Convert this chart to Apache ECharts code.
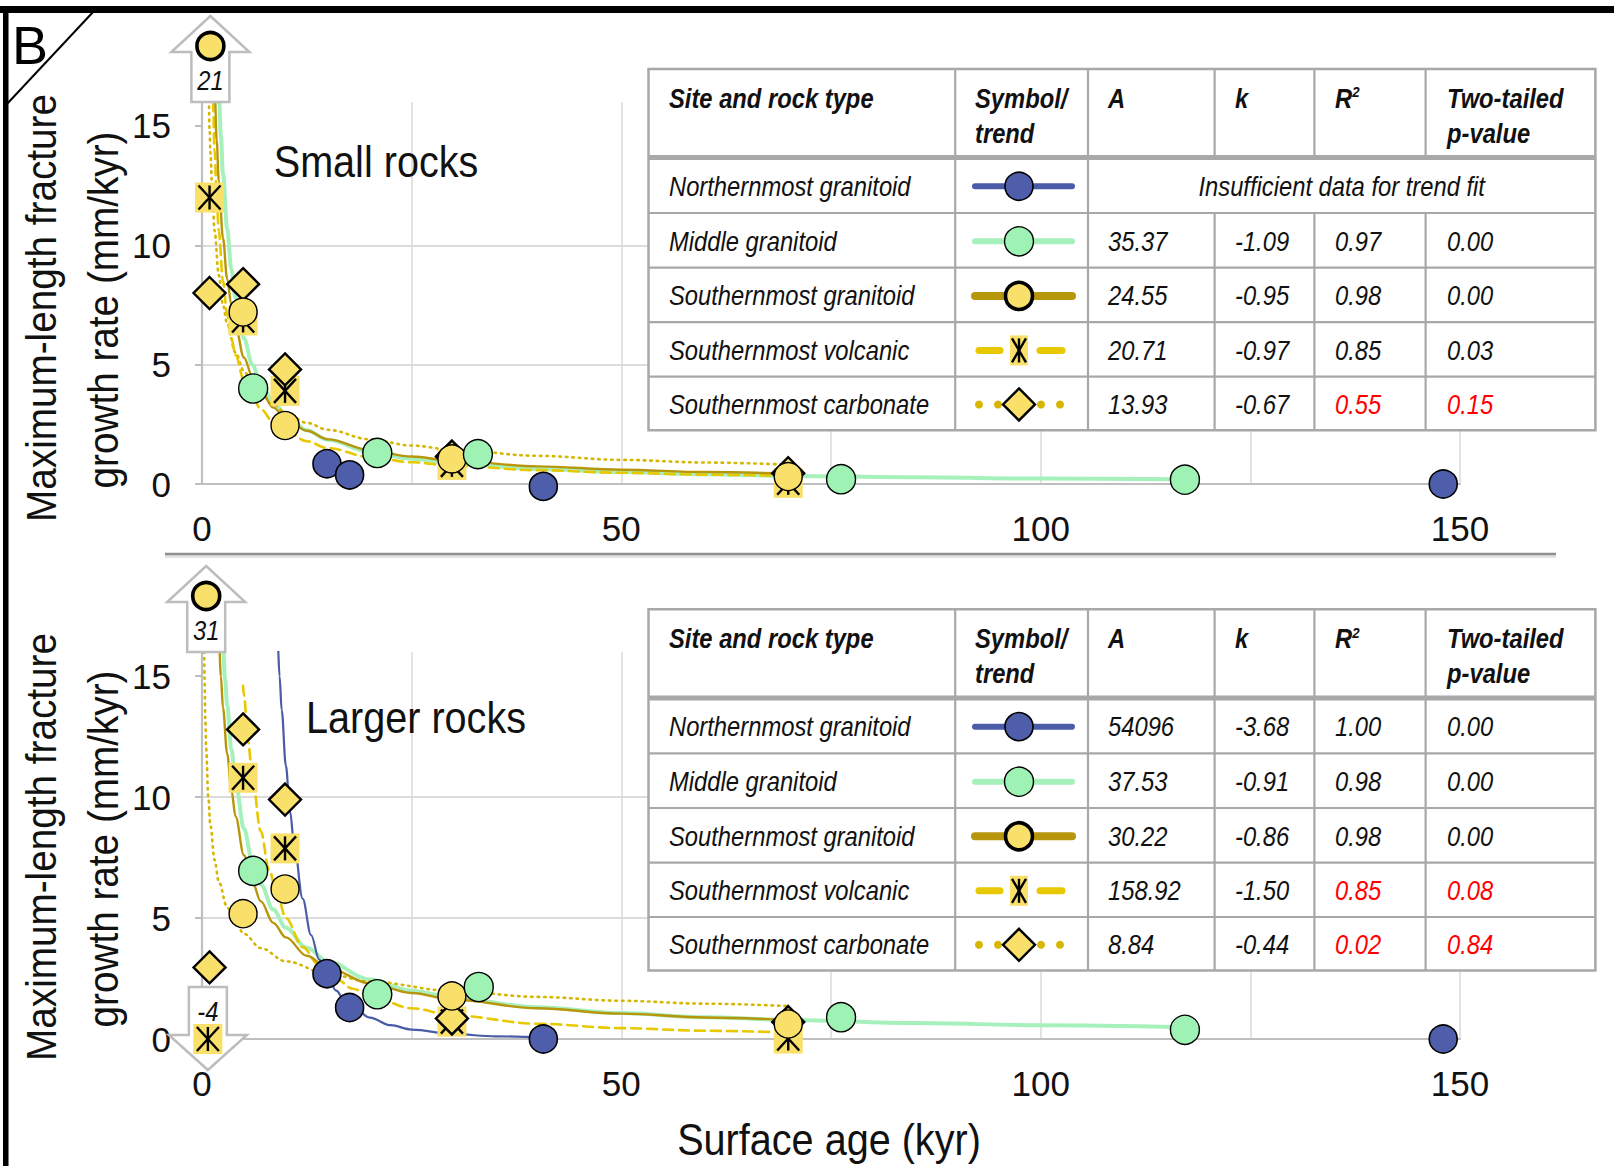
<!DOCTYPE html>
<html><head><meta charset="utf-8">
<script src="https://cdn.jsdelivr.net/npm/echarts@6/dist/echarts.min.js"></script>
<style>html,body{margin:0;padding:0;background:#fff}#c{width:1614px;height:1166px}</style>
</head><body><div id="c"></div>
<script>
// ---------------- DATA ----------------
const xTickLabels = [0, 50, 100, 150];
const yTickLabels = [0, 5, 10, 15];
const siteNames = ['Northernmost granitoid', 'Middle granitoid', 'Southernmost granitoid', 'Southernmost volcanic', 'Southernmost carbonate'];
const headers = ['Site and rock type', 'Symbol/\ntrend', 'A', 'k', 'R2', 'Two-tailed\np-value'];
const insufficientText = 'Insufficient data for trend fit';

// Small rocks table
const smallA  = [null, '35.37', '24.55', '20.71', '13.93'];
const smallK  = [null, '-1.09', '-0.95', '-0.97', '-0.67'];
const smallR2 = [null, '0.97', '0.98', '0.85', '0.55'];
const smallP  = [null, '0.00', '0.00', '0.03', '0.15'];
// Larger rocks table
const largeA  = ['54096', '37.53', '30.22', '158.92', '8.84'];
const largeK  = ['-3.68', '-0.91', '-0.86', '-1.50', '-0.44'];
const largeR2 = ['1.00', '0.98', '0.98', '0.85', '0.02'];
const largeP  = ['0.00', '0.00', '0.00', '0.08', '0.84'];

// Small rocks points [age kyr, rate mm/kyr]
const smallNorthern = [[14.9, 0.85], [17.6, 0.38], [40.7, -0.1], [148, 0]];
const smallMiddle = [[6.1, 4.0], [20.9, 1.3], [32.9, 1.25], [76.2, 0.2], [117.2, 0.18]];
const smallSouthGranitoid = [[4.9, 7.2], [9.9, 2.45], [29.8, 1.05], [69.9, 0.31]];
const smallSouthGranitoidOff = [[1, 21]];
const smallVolcanic = [[0.9, 12.0], [4.9, 6.85], [9.9, 3.9], [29.8, 0.8], [69.9, 0.05]];
const smallCarbonate = [[0.9, 8.0], [4.9, 8.37], [9.9, 4.8], [29.8, 1.15], [69.9, 0.45]];

// Larger rocks points
const largeNorthern = [[14.9, 2.7], [17.6, 1.3], [40.7, 0], [148, 0]];
const largeMiddle = [[6.1, 6.95], [20.9, 1.85], [33.0, 2.15], [76.2, 0.9], [117.2, 0.38]];
const largeSouthGranitoid = [[4.9, 5.18], [9.9, 6.2], [29.8, 1.78], [69.9, 0.62]];
const largeSouthGranitoidOff = [[0.5, 31]];
const largeVolcanic = [[4.9, 10.8], [9.9, 7.88], [29.8, 0.72], [69.9, 0.02]];
const largeVolcanicOff = [[0.7, -4]];
const largeCarbonate = [[0.9, 2.96], [4.9, 12.8], [9.9, 9.9], [29.8, 0.85], [69.9, 0.7]];

// Trend curves
const smallTrendMiddle = [[1.9,17.6],[2,16.6],[2.25,14.6],[2.5,13.0],[3,10.7],[3.5,9.0],[4,7.8],[5,6.1],[6,5.0],[7,4.24],[8.5,3.43],[10,2.88],[12.5,2.25],[15,1.85],[20,1.35],[25,1.06],[30,0.87],[40,0.63],[50,0.5],[60,0.41],[70,0.34],[85,0.28],[100,0.23],[117,0.2]];
const smallTrendSouthGranitoid = [[1.45,17.2],[1.5,16.7],[1.75,14.4],[2,12.7],[2.5,10.3],[3,8.6],[3.5,7.5],[4,6.6],[5,5.3],[6,4.5],[7,3.9],[8.5,3.2],[10,2.75],[12.5,2.23],[15,1.87],[20,1.42],[25,1.15],[30,0.97],[40,0.74],[50,0.6],[60,0.5],[70,0.43]];
const smallTrendVolcanic = [[1.25,16.7],[1.3,16.0],[1.5,14.0],[1.75,12.0],[2,10.6],[2.5,8.5],[3,7.1],[3.5,6.1],[4,5.4],[5,4.35],[6,3.64],[7,3.14],[8.5,2.6],[10,2.22],[12.5,1.79],[15,1.5],[20,1.13],[25,0.91],[30,0.76],[40,0.58],[50,0.47],[60,0.39],[70,0.34]];
const smallTrendCarbonate = [[0.75,16.9],[0.8,16.2],[0.9,14.9],[1,13.9],[1.25,12.0],[1.5,10.6],[2,8.75],[2.5,7.5],[3,6.7],[4,5.5],[5,4.74],[6,4.2],[7,3.78],[8.5,3.32],[10,2.98],[12.5,2.56],[15,2.27],[20,1.87],[25,1.61],[30,1.43],[40,1.18],[50,1.01],[60,0.9],[70,0.81]];

const largeTrendNorthern = [[8.8,18.0],[9,16.6],[9.25,15.0],[9.5,13.6],[10,11.3],[10.5,9.4],[11,8.0],[12,5.8],[13,4.3],[14,3.27],[15,2.54],[16,2.0],[17,1.6],[18.5,1.17],[20,0.88],[22.5,0.57],[25,0.39],[30,0.2],[35,0.11],[41,0.06]];
const largeTrendMiddle = [[2.3,17.6],[2.5,16.3],[2.75,14.9],[3,13.8],[3.5,12.0],[4,10.6],[5,8.7],[6,7.35],[7,6.4],[8.5,5.35],[10,4.6],[12.5,3.77],[15,3.2],[20,2.46],[25,2.0],[30,1.7],[40,1.31],[50,1.07],[60,0.9],[70,0.79],[85,0.66],[100,0.57],[117,0.49]];
const largeTrendSouthGranitoid = [[1.8,18.2],[2,16.7],[2.25,15.0],[2.5,13.7],[3,11.8],[3.5,10.3],[4,9.2],[5,7.6],[6,6.5],[7,5.7],[8.5,4.8],[10,4.2],[12.5,3.44],[15,2.94],[20,2.3],[25,1.9],[30,1.62],[40,1.27],[50,1.05],[60,0.89],[70,0.78]];
const largeTrendVolcanic = [[4.9,14.6],[5,14.2],[5.5,12.3],[6,10.8],[7,8.6],[8,7.0],[9,5.9],[10,5.0],[12,3.8],[14,3.03],[16,2.48],[18,2.08],[20,1.78],[25,1.27],[30,0.97],[40,0.63],[50,0.45],[60,0.34],[70,0.27]];
const largeTrendCarbonate = [[0.2,17.9],[0.25,16.3],[0.3,15.0],[0.4,13.2],[0.5,12.0],[0.75,10.0],[1,8.84],[1.5,7.4],[2,6.5],[3,5.45],[4,4.8],[5,4.35],[7,3.76],[10,3.21],[15,2.69],[20,2.37],[30,1.98],[40,1.74],[50,1.58],[60,1.46],[70,1.36]];

// ---------------- STYLE ----------------
const FONT = "'Liberation Sans Narrow','Arial Narrow','Liberation Sans',Arial,sans-serif";
const SQ = 0.88; // horizontal condensing of text to mimic a narrow face
const AXIS_GRAY = '#BFBFBF', GRID_GRAY = '#DCDCDC', TABLE_GRAY = '#A8A8A8';
const C = {
  blueFill: '#4F5EAA', blueLine: '#4A5BA8',
  greenFill: '#9EF2B4', greenLine: '#A6F0BC',
  yellow: '#F8E06A', goldLine: '#B8960C',
  volcLine: '#E8C800', carbLine: '#D6B600'
};
const Y_MIN = 0, Y_MAX = 16;

function markerShapes(kind, cx, cy, opt) {
  opt = opt || {};
  if (kind === 'circleBlue') return [{type:'circle', shape:{cx, cy, r:14}, style:{fill:C.blueFill, stroke:'#000', lineWidth:1.6}}];
  if (kind === 'circleGreen') return [{type:'circle', shape:{cx, cy, r:14.5}, style:{fill:C.greenFill, stroke:'#000', lineWidth:1.4}}];
  if (kind === 'circleBold') return [{type:'circle', shape:{cx, cy, r:13.5}, style:{fill:C.yellow, stroke:'#000', lineWidth:3.6}}];
  if (kind === 'diamond') {
    const h = 16;
    return [{type:'polygon', shape:{points:[[cx, cy-h],[cx+h, cy],[cx, cy+h],[cx-h, cy]]}, style:{fill:C.yellow, stroke:'#000', lineWidth:2.4}}];
  }
  if (kind === 'asterisk') {
    const hw = opt.narrow ? 9 : 14.5, hh = 15, aw = opt.narrow ? 7 : 11, ah = 12;
    return [
      {type:'rect', shape:{x:cx-hw, y:cy-hh, width:hw*2, height:hh*2}, style:{fill:C.yellow}},
      {type:'line', shape:{x1:cx-aw, y1:cy-ah, x2:cx+aw, y2:cy+ah}, style:{stroke:'#000', lineWidth:2.4}},
      {type:'line', shape:{x1:cx+aw, y1:cy-ah, x2:cx-aw, y2:cy+ah}, style:{stroke:'#000', lineWidth:2.4}},
      {type:'line', shape:{x1:cx, y1:cy-ah, x2:cx, y2:cy+ah}, style:{stroke:'#000', lineWidth:2.4}}
    ];
  }
  return [];
}

function trend(data, gi, color, width, type, z) {
  return {type:'line', xAxisIndex:gi, yAxisIndex:gi, data, showSymbol:false, symbol:'none',
    smooth:0.35, smoothMonotone:'x', clip:true, z, silent:true,
    lineStyle:{color, width, type, cap:'round'}};
}
function scatter(data, gi, symbol, size, fill, bw, z) {
  return {type:'scatter', xAxisIndex:gi, yAxisIndex:gi, data, symbol, symbolSize:size, clip:false, z, silent:true,
    itemStyle:{color:fill, borderColor:'#000', borderWidth:bw, opacity:1}};
}
function markerSeries(data, gi, kind, z) {
  return {type:'custom', xAxisIndex:gi, yAxisIndex:gi, data, clip:false, z, silent:true,
    renderItem:(params, api) => {
      const p = api.coord([api.value(0), api.value(1)]);
      return {type:'group', children: markerShapes(kind, p[0], p[1])};
    }};
}
function arrowSeries(data, gi, kind) {
  return {type:'custom', xAxisIndex:gi, yAxisIndex:gi, data, clip:false, z:30, silent:true,
    renderItem:(params, api) => {
      const x = api.value(0), v = api.value(1);
      const up = v > Y_MAX;
      const p = api.coord([x, up ? Y_MAX : Y_MIN]);
      const cx = p[0], y0 = p[1];
      let pts, my, ty;
      if (up) {
        pts = [[cx-19,y0],[cx-19,y0-50],[cx-39,y0-50],[cx,y0-86],[cx+39,y0-50],[cx+19,y0-50],[cx+19,y0]];
        my = y0 - 56; ty = y0 - 22;
      } else {
        pts = [[cx-19,y0-52],[cx-19,y0-4],[cx-39,y0-4],[cx,y0+31],[cx+39,y0-4],[cx+19,y0-4],[cx+19,y0-52]];
        my = y0; ty = y0 - 28;
      }
      const children = [{type:'polygon', shape:{points:pts}, style:{fill:'#fff', stroke:'#BDBDBD', lineWidth:2.5}}];
      children.push(...markerShapes(kind, cx, my));
      children.push({type:'text', x:cx, y:ty, scaleX:SQ, style:{text:String(v), fill:'#111', fontSize:27, fontStyle:'italic', fontFamily:FONT,
        textAlign:'center', textVerticalAlign:'middle', align:'center', verticalAlign:'middle'}});
      return {type:'group', children};
    }};
}

// ---------------- TABLES (graphic) ----------------
const COLS = [648.5, 955.2, 1088, 1214.6, 1314.4, 1425.6, 1595.4];
const TEXT_X = [669, null, 1108, 1235, 1335, 1447];
const legendKinds = [
  {line:'solid', color:C.blueLine, w:6, marker:'circleBlue'},
  {line:'solid', color:C.greenLine, w:6, marker:'circleGreen'},
  {line:'solid', color:C.goldLine, w:8, marker:'circleBold'},
  {line:'dash', color:C.volcLine, w:7, marker:'asterisk'},
  {line:'dot', color:C.carbLine, w:4, marker:'diamond'}
];
function txt(x, y, text, o) {
  o = o || {};
  return {type:'text', x, y, z:101, scaleX:SQ, style:{text, fill:o.color || '#111', fontSize:o.size || 27, fontFamily:FONT,
    fontStyle:'italic', fontWeight:o.bold ? 'bold' : 'normal',
    textAlign:o.align || 'left', textVerticalAlign:'middle', align:o.align || 'left', verticalAlign:'middle',
    rich:o.rich}};
}
function buildTable(rowsY, A, K, R2, P) {
  const els = [];
  const top = rowsY[0], bottom = rowsY[rowsY.length-1];
  els.push({type:'rect', z:100, shape:{x:COLS[0], y:top, width:COLS[6]-COLS[0], height:bottom-top}, style:{fill:'#fff', stroke:TABLE_GRAY, lineWidth:2.5}});
  for (let i = 1; i < rowsY.length - 1; i++) {
    els.push({type:'line', z:101, shape:{x1:COLS[0], y1:rowsY[i], x2:COLS[6], y2:rowsY[i]}, style:{stroke:TABLE_GRAY, lineWidth: i === 1 ? 5 : 2.2}});
  }
  for (let j = 1; j < 6; j++) {
    if (j >= 3 && A[0] === null) {
      els.push({type:'line', z:101, shape:{x1:COLS[j], y1:top, x2:COLS[j], y2:rowsY[1]}, style:{stroke:TABLE_GRAY, lineWidth:2.2}});
      els.push({type:'line', z:101, shape:{x1:COLS[j], y1:rowsY[2], x2:COLS[j], y2:bottom}, style:{stroke:TABLE_GRAY, lineWidth:2.2}});
      continue;
    }
    els.push({type:'line', z:101, shape:{x1:COLS[j], y1:top, x2:COLS[j], y2:bottom}, style:{stroke:TABLE_GRAY, lineWidth:2.2}});
  }
  // headers
  const hy1 = top + 29, hy2 = top + 64;
  headers.forEach((h, j) => {
    const x = j === 1 ? 975 : TEXT_X[j];
    const lines = h.split('\n');
    if (h === 'R2') {
      els.push(txt(x, hy1, '{b|R}{s|2}', {bold:true, rich:{b:{fontSize:27, fontWeight:'bold', fontStyle:'italic', fontFamily:FONT, fill:'#111'}, s:{fontSize:15, fontWeight:'bold', fontStyle:'italic', fontFamily:FONT, fill:'#111', verticalAlign:'top', padding:[0,0,12,0]}}}));
    } else {
      els.push(txt(x, hy1, lines[0], {bold:true}));
      if (lines[1]) els.push(txt(x, hy2, lines[1], {bold:true}));
    }
  });
  // rows
  for (let i = 0; i < siteNames.length; i++) {
    const cy = (rowsY[i+1] + rowsY[i+2]) / 2 + 1;
    els.push(txt(TEXT_X[0], cy, siteNames[i]));
    const L = legendKinds[i], lx1 = 975, lx2 = 1072, mx = 1019;
    if (L.line === 'solid') {
      els.push({type:'line', z:101, shape:{x1:lx1, y1:cy, x2:lx2, y2:cy}, style:{stroke:L.color, lineWidth:L.w, lineCap:'round'}});
    } else if (L.line === 'dash') {
      els.push({type:'line', z:101, shape:{x1:979, y1:cy, x2:1000, y2:cy}, style:{stroke:L.color, lineWidth:L.w, lineCap:'round'}});
      els.push({type:'line', z:101, shape:{x1:1040, y1:cy, x2:1062, y2:cy}, style:{stroke:L.color, lineWidth:L.w, lineCap:'round'}});
    } else {
      [979, 998, 1041, 1060].forEach(dx => els.push({type:'circle', z:101, shape:{cx:dx, cy, r:4}, style:{fill:L.color}}));
    }
    markerShapes(L.marker, mx, cy, {narrow:true}).forEach(m => { m.z = 102; els.push(m); });
    if (A[i] === null) {
      els.push(txt((COLS[2] + COLS[6]) / 2, cy, insufficientText, {align:'center'}));
    } else {
      const red = parseFloat(P[i]) > 0.05;
      els.push(txt(TEXT_X[2], cy, A[i]));
      els.push(txt(TEXT_X[3], cy, K[i]));
      els.push(txt(TEXT_X[4], cy, R2[i], {color: red ? '#FF0000' : '#111'}));
      els.push(txt(TEXT_X[5], cy, P[i], {color: red ? '#FF0000' : '#111'}));
    }
  }
  return els;
}

function bigText(x, y, text, size, rot) {
  return {type:'text', z:60, x, y, rotation:rot || 0, scaleX:0.9, style:{text, fontSize:size, fontFamily:FONT, fill:'#111',
    textAlign:'center', textVerticalAlign:'middle', align:'center', verticalAlign:'middle'}};
}

const graphics = [];
// frame
graphics.push({type:'rect', z:200, shape:{x:0, y:6, width:1614, height:7}, style:{fill:'#000'}});
graphics.push({type:'rect', z:200, shape:{x:3, y:6, width:5.5, height:1160}, style:{fill:'#000'}});
graphics.push({type:'line', z:200, shape:{x1:94, y1:11, x2:6, y2:105}, style:{stroke:'#000', lineWidth:2}});
graphics.push({type:'text', z:200, x:30, y:45, style:{text:'B', fontSize:54, fontFamily:"'Liberation Sans',Arial,sans-serif", fill:'#000', textAlign:'center', textVerticalAlign:'middle', align:'center', verticalAlign:'middle'}});
// panel separator
graphics.push({type:'line', z:50, shape:{x1:165, y1:556, x2:1556, y2:556}, style:{stroke:'#E2E2E2', lineWidth:4}});
graphics.push({type:'line', z:51, shape:{x1:165, y1:554, x2:1556, y2:554}, style:{stroke:'#8F8F8F', lineWidth:2.5}});
// titles
const yTitle1 = 'Maximum-length fracture', yTitle2 = 'growth rate (mm/kyr)';
[[308, 310], [847, 849]].forEach(([c1, c2]) => {
  graphics.push(bigText(41, c1, yTitle1, 43, Math.PI/2));
  graphics.push(bigText(103, c2, yTitle2, 43, Math.PI/2));
});
graphics.push(bigText(376, 162, 'Small rocks', 44));
graphics.push(bigText(416, 718, 'Larger rocks', 44));
graphics.push(bigText(829, 1140, 'Surface age (kyr)', 44));
graphics.push(...buildTable([69, 157.5, 213, 267.6, 322.2, 376.7, 430.2], smallA, smallK, smallR2, smallP));
graphics.push(...buildTable([609.3, 697.9, 753.4, 808, 862.6, 917, 970.6], largeA, largeK, largeR2, largeP));

// ---------------- CHART ----------------
const axisBase = i => ({
  x: {type:'value', gridIndex:i, min:0, max:150, interval:25,
    axisLine:{show:true, onZero:false, lineStyle:{color:AXIS_GRAY, width:2.2}},
    axisTick:{show:false},
    axisLabel:{margin:27, fontSize:35, color:'#111', fontFamily:FONT, customValues:xTickLabels},
    splitLine:{show:true, lineStyle:{color:GRID_GRAY, width:1.6}}},
  y: {type:'value', gridIndex:i, min:Y_MIN, max:Y_MAX, interval:5,
    axisLine:{show:true, onZero:false, lineStyle:{color:AXIS_GRAY, width:2.2}},
    axisTick:{show:true, inside:false, length:7, lineStyle:{color:AXIS_GRAY, width:2}, customValues:yTickLabels},
    axisLabel:{margin:31, fontSize:35, color:'#111', fontFamily:FONT, customValues:yTickLabels},
    splitLine:{show:true, showMaxLine:false, lineStyle:{color:GRID_GRAY, width:2}}}
});

const series = [
  trend(smallTrendMiddle, 0, C.greenLine, 4, 'solid', 2),
  trend(smallTrendCarbonate, 0, C.carbLine, 2.6, [1.5, 5], 3),
  trend(smallTrendVolcanic, 0, C.volcLine, 2.6, [10, 6], 3),
  trend(smallTrendSouthGranitoid, 0, C.goldLine, 2.4, 'solid', 4),
  markerSeries(smallVolcanic, 0, 'asterisk', 10),
  scatter(smallCarbonate, 0, 'diamond', 32, C.yellow, 2.4, 11),
  scatter(smallSouthGranitoid, 0, 'circle', 28, C.yellow, 1.4, 12),
  scatter(smallMiddle, 0, 'circle', 29, C.greenFill, 1.4, 13),
  scatter(smallNorthern, 0, 'circle', 28, C.blueFill, 1.6, 14),
  arrowSeries(smallSouthGranitoidOff, 0, 'circleBold'),
  trend(largeTrendMiddle, 1, C.greenLine, 4, 'solid', 2),
  trend(largeTrendCarbonate, 1, C.carbLine, 2.6, [1.5, 5], 3),
  trend(largeTrendVolcanic, 1, C.volcLine, 2.6, [10, 6], 3),
  trend(largeTrendSouthGranitoid, 1, C.goldLine, 2.4, 'solid', 4),
  trend(largeTrendNorthern, 1, C.blueLine, 2.2, 'solid', 5),
  markerSeries(largeVolcanic, 1, 'asterisk', 10),
  scatter(largeCarbonate, 1, 'diamond', 32, C.yellow, 2.4, 11),
  scatter(largeSouthGranitoid, 1, 'circle', 28, C.yellow, 1.4, 12),
  scatter(largeMiddle, 1, 'circle', 29, C.greenFill, 1.4, 13),
  scatter(largeNorthern, 1, 'circle', 28, C.blueFill, 1.6, 14),
  arrowSeries(largeSouthGranitoidOff, 1, 'circleBold'),
  arrowSeries(largeVolcanicOff, 1, 'asterisk')
];

const option = {
  animation: false,
  backgroundColor: '#fff',
  textStyle: {fontFamily: FONT},
  grid: [
    {left: 202, top: 102, width: 1258, height: 382},
    {left: 202, top: 652, width: 1258, height: 387}
  ],
  xAxis: [axisBase(0).x, axisBase(1).x],
  yAxis: [axisBase(0).y, axisBase(1).y],
  series,
  graphic: graphics
};
const chart = echarts.init(document.getElementById('c'), null, {renderer: 'svg'});
chart.setOption(option);
</script>
</body></html>
